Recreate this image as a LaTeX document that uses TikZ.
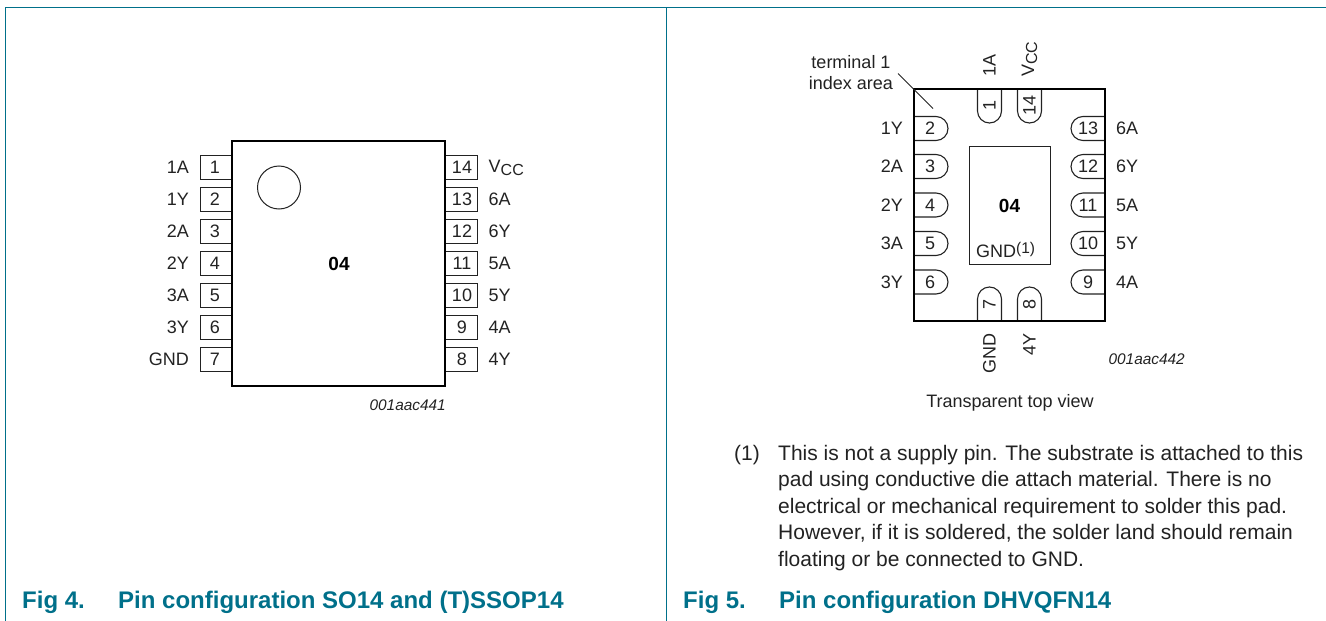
\documentclass[tikz,border=0pt]{standalone}
\usepackage{fontspec}
\setmainfont{Liberation Sans}
\definecolor{tealc}{HTML}{00708A}
\definecolor{ink}{HTML}{222222}
\tikzset{
 x=1pt,y=-1pt,
 txt/.style={inner sep=0pt,font=\fontsize{18}{22}\selectfont,text=ink},
 notetxt/.style={inner sep=0pt,anchor=base west,font=\fontsize{21}{26}\selectfont,text=ink},
 lab/.style={txt,anchor=east},
 labr/.style={txt,anchor=west},
 pinbox/.style={draw=ink,line width=1.1pt},
 pkgbody/.style={draw=black,line width=2.4pt,line join=miter},
 thinline/.style={draw=ink,line width=1pt},
 figcap/.style={inner sep=0pt,anchor=base west,font=\bfseries\fontsize{24}{28}\selectfont,text=tealc},
 codetxt/.style={inner sep=0pt,font=\itshape\fontsize{15.4}{18}\selectfont,text=ink},
 boldmark/.style={inner sep=0pt,font=\bfseries\fontsize{19}{22}\selectfont,text=black},
 framel/.style={draw=tealc,line width=1pt},
}
\newcommand{\ccsub}{\raisebox{-3pt}{\fontsize{16}{20}\selectfont CC}}
\begin{document}
\begin{tikzpicture}
\useasboundingbox (0,0) rectangle (1326,621);
% frames
\coordinate (fa) at (5.5,621); \coordinate (fb) at (5.5,7.5); \coordinate (fc) at (1326,7.5);
\coordinate (ma) at (666.5,7.5); \coordinate (mb) at (666.5,621);
\draw[framel] (fa) -- (fb) -- (fc);
\draw[framel] (ma) -- (mb);
% left package
\foreach \n/\l/\y in {1/1A/167.5,2/1Y/199.5,3/2A/231.5,4/2Y/263.5,5/3A/295.5,6/3Y/327.5,7/GND/359.5}{
 \draw[pinbox] (232,\y-12) -- (200.5,\y-12) -- (200.5,\y+12) -- (232,\y+12);
 \node[txt] (ln\n) at (215,\y) {\n};
 \node[lab] (ll\n) at (189,\y) {\l};
}
\foreach \n/\l/\y in {14/{V\ccsub}/167.5,13/6A/199.5,12/6Y/231.5,11/5A/263.5,10/5Y/295.5,9/4A/327.5,8/4Y/359.5}{
 \draw[pinbox] (445,\y-12) -- (477.5,\y-12) -- (477.5,\y+12) -- (445,\y+12);
 \node[txt] (rn\n) at (462,\y) {\n};
 \node[labr] (rl\n) at (488.5,\y) {\l};
}
\draw[pkgbody] (232,141) rectangle (445,386);
\draw[thinline] (279,187.5) circle (21.5);
\node[boldmark] (lc) at (339,264) {04};
\node[codetxt,anchor=east] (lcode) at (446,405) {001aac441};
\node[figcap] (f4) at (22,608) {Fig 4.};
\node[figcap] (t4) at (118,608) {Pin configuration SO14 and (T)SSOP14};
% right package
\foreach \n/\l/\y in {2/1Y/128.5,3/2A/166.5,4/2Y/205,5/3A/243.5,6/3Y/282}{
 \draw[pinbox] (914,\y-12) -- (936,\y-12) arc (90:-90:12pt) -- (914,\y+12);
 \node[txt] (an\n) at (930,\y) {\n};
 \node[lab] (al\n) at (903,\y) {\l};
}
\foreach \n/\l/\y in {13/6A/128.5,12/6Y/166.5,11/5A/205,10/5Y/243.5,9/4A/282}{
 \draw[pinbox] (1105,\y-12) -- (1083,\y-12) arc (90:270:12pt) -- (1105,\y+12);
 \node[txt] (bn\n) at (1088,\y) {\n};
 \node[labr] (bl\n) at (1116,\y) {\l};
}
\foreach \n/\l/\x in {1/1A/989.5,14/{V\ccsub}/1029.5}{
 \draw[pinbox] (\x-12,89) -- (\x-12,111) arc (180:360:12pt) -- (\x+12,89);
 \node[txt,rotate=90] (cn\n) at (\x,105) {\n};
 \node[txt,rotate=90,anchor=west] (cl\n) at (\x,77) {\l};
}
\foreach \n/\l/\x in {7/GND/989.5,8/4Y/1029.5}{
 \draw[pinbox] (\x-12,321) -- (\x-12,299) arc (180:0:12pt) -- (\x+12,321);
 \node[txt,rotate=90] (dn\n) at (\x,304) {\n};
 \node[txt,rotate=90,anchor=east] (dl\n) at (\x,333) {\l};
}
\draw[pkgbody] (914,89) rectangle (1105,321);
\draw[thinline] (969,146.5) rectangle (1050,264);
\node[boldmark] (rc) at (1009.5,205.5) {04};
\node[txt,anchor=base west] (g) at (976,257) {GND\raisebox{3.5pt}{\fontsize{15.5}{18}\selectfont (1)}};
\coordinate (ia) at (898,73.5); \coordinate (ib) at (933,108.5);
\draw[draw=ink,line width=.8pt] (ia) -- (ib);
\node[txt,anchor=base] (t1) at (851,68) {terminal 1};
\node[txt,anchor=base] (t2) at (851,89) {index area};
\node[txt,anchor=base] (tv) at (1010,407) {Transparent top view};
\node[codetxt,anchor=east] (rcode) at (1185,359) {001aac442};
\node[notetxt] (n1) at (734,460) {(1)};
\node[notetxt] (n2) at (778,460) {This is not a supply pin. The substrate is attached to this};
\node[notetxt] (n3) at (778,486) {pad using conductive die attach material. There is no};
\node[notetxt] (n4) at (778,513) {electrical or mechanical requirement to solder this pad.};
\node[notetxt] (n5) at (778,539.5) {However, if it is soldered, the solder land should remain};
\node[notetxt] (n6) at (778,566) {floating or be connected to GND.};
\node[figcap] (f5) at (683,608) {Fig 5.};
\node[figcap] (t5) at (779,608) {Pin configuration DHVQFN14};
\end{tikzpicture}
\end{document}
